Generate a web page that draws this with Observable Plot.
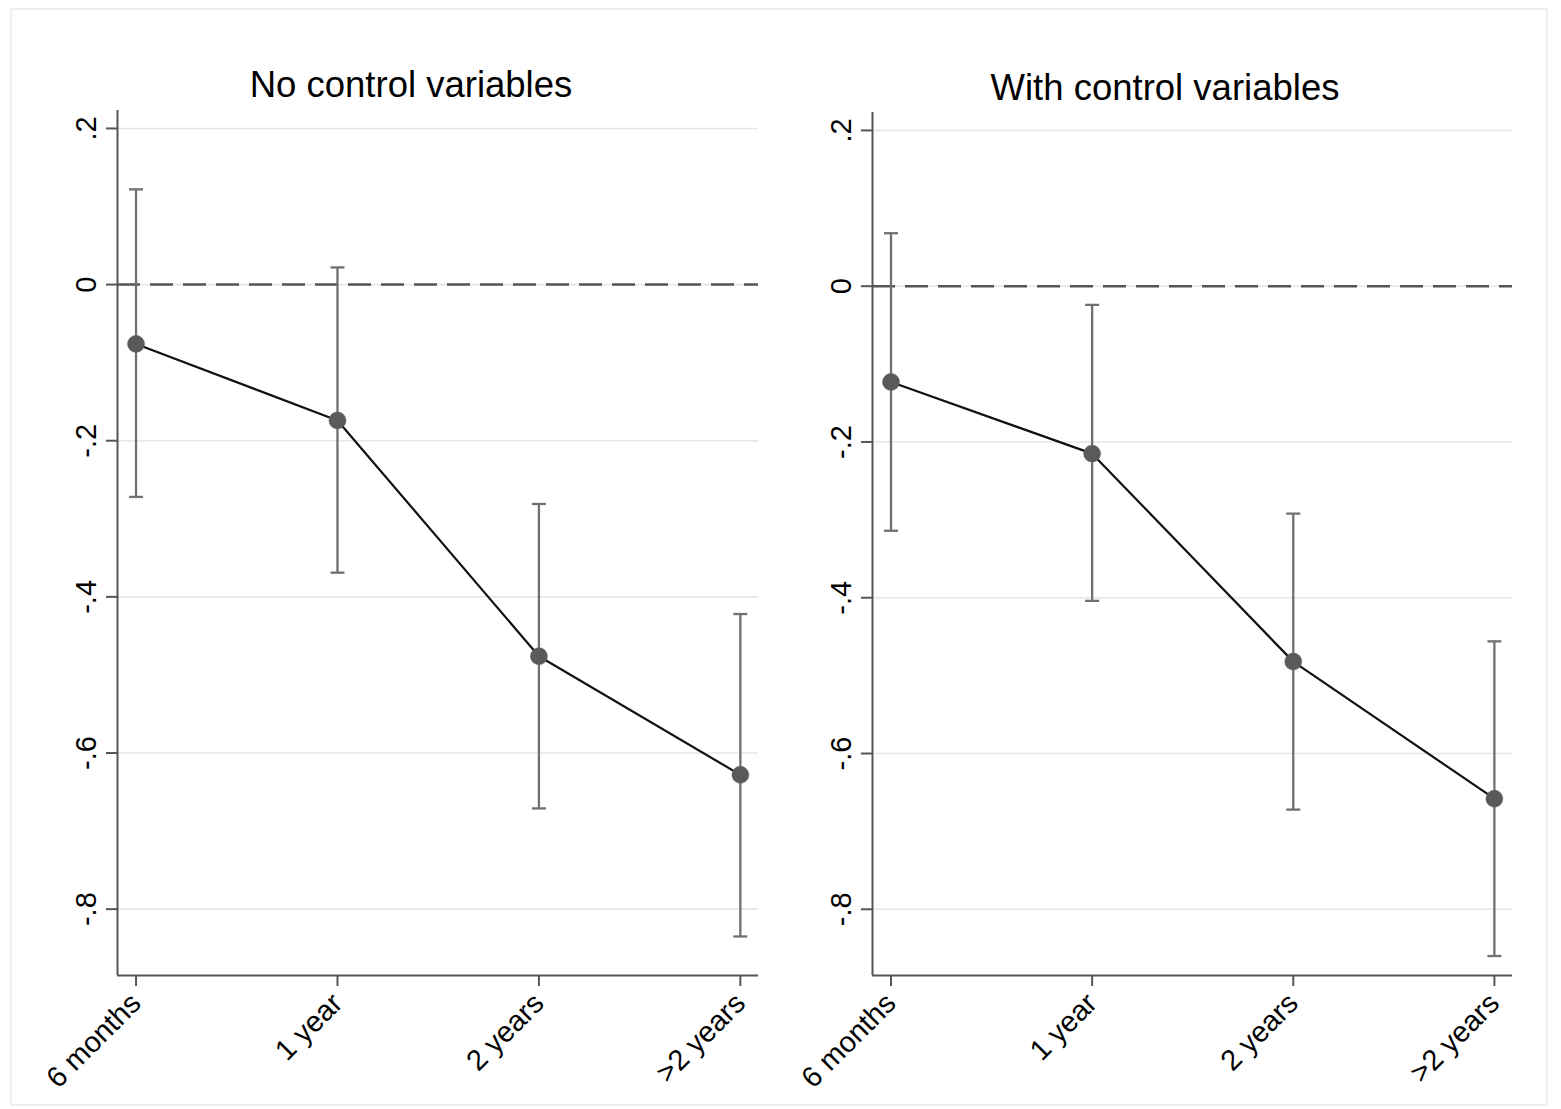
<!DOCTYPE html>
<html><head><meta charset="utf-8">
<script src="https://cdn.jsdelivr.net/npm/d3@7"></script>
<script src="https://cdn.jsdelivr.net/npm/@observablehq/plot@0.6"></script>
<style>
body{margin:0;background:#fff;font-family:"Liberation Sans",Arial,sans-serif;}
#frame{position:absolute;left:10px;top:8px;width:1538px;height:1098px;border:2px solid #efefef;box-sizing:border-box;}
.title{position:absolute;font-size:36.5px;line-height:1;text-align:center;color:#000;white-space:nowrap;}
</style></head><body>
<div id="frame"></div>
<script>
const categories = ["6 months", "1 year", "2 years", ">2 years"];
const panelTitles = ["No control variables", "With control variables"];
const estNoControls = [-0.076, -0.174, -0.476, -0.628];
const lowNoControls = [-0.272, -0.369, -0.671, -0.835];
const highNoControls = [0.122, 0.022, -0.281, -0.422];
const estControls = [-0.123, -0.215, -0.482, -0.658];
const lowControls = [-0.314, -0.404, -0.672, -0.860];
const highControls = [0.068, -0.024, -0.292, -0.456];
const yTicks = [0.2, 0, -0.2, -0.4, -0.6, -0.8];
const yTickLabels = [".2", "0", "-.2", "-.4", "-.6", "-.8"];

const xDomain = [-0.092, 3.09];
const yDomain = [-0.885, 0.223];
const capSymbol = {draw(ctx) { ctx.moveTo(-7, 0); ctx.lineTo(7, 0); }};

function panel(est, low, high, title, o) {
  const data = categories.map((c, i) => ({i, cat: c, est: est[i], low: low[i], high: high[i]}));
  const axisColor = "#555";
  const chart = Plot.plot({
    width: o.width, height: o.height,
    marginLeft: o.ml, marginRight: o.mr, marginTop: o.mt, marginBottom: o.mb,
    style: {fontFamily: "Liberation Sans, Arial, sans-serif", background: "transparent", color: "#000"},
    x: {domain: xDomain, axis: null},
    y: {domain: yDomain, axis: null},
    marks: [
      Plot.ruleY(yTicks, {stroke: "#e6e6e6", strokeWidth: 1.6}),
      Plot.ruleY([0], {stroke: "#555", strokeWidth: 2.5, strokeDasharray: "23,10"}),
      Plot.ruleX(data, {x: "i", y1: "low", y2: "high", stroke: "#707070", strokeWidth: 2.3}),
      Plot.dot(data, {x: "i", y: "low", symbol: capSymbol, stroke: "#707070", strokeWidth: 2.3}),
      Plot.dot(data, {x: "i", y: "high", symbol: capSymbol, stroke: "#707070", strokeWidth: 2.3}),
      Plot.line(data, {x: "i", y: "est", stroke: "#111", strokeWidth: 2.2}),
      Plot.dot(data, {x: "i", y: "est", r: 8.5, fill: "#5a5a5a", stroke: "#5a5a5a", strokeWidth: 0.5}),
      Plot.ruleX([xDomain[0]], {stroke: axisColor, strokeWidth: 2}),
      Plot.ruleY([yDomain[0]], {stroke: axisColor, strokeWidth: 2}),
      Plot.axisY({ticks: yTicks, tickFormat: (d) => yTickLabels[yTicks.indexOf(d)], label: null,
        tickSize: 11, tickPadding: 20, tickRotate: -90, textAnchor: "middle", lineAnchor: "middle",
        fontSize: 29, stroke: axisColor, strokeWidth: 2, fill: "#000"}),
      Plot.axisX({ticks: d3.range(categories.length), tickFormat: (d) => categories[d], label: null,
        tickSize: 11, tickPadding: 12, tickRotate: -45, textAnchor: "end", lineAnchor: "middle",
        fontSize: 29, stroke: axisColor, strokeWidth: 2, fill: "#000"})
    ]
  });
  chart.style.position = "absolute";
  chart.style.left = o.left + "px";
  chart.style.top = o.top + "px";
  chart.style.maxWidth = "none";
  chart.style.width = o.width + "px";
  chart.style.height = o.height + "px";
  chart.style.overflow = "visible";
  document.body.appendChild(chart);
  const t = document.createElement("div");
  t.className = "title";
  t.textContent = title;
  t.style.left = (o.titleCenter - 300) + "px";
  t.style.width = "600px";
  t.style.top = o.titleTop + "px";
  document.body.appendChild(t);
}

panel(estNoControls, lowNoControls, highNoControls, panelTitles[0],
  {left: 0, top: 100, width: 770, height: 1009, ml: 117, mr: 12, mt: 10, mb: 134, titleCenter: 411, titleTop: 67});
panel(estControls, lowControls, highControls, panelTitles[1],
  {left: 760, top: 101, width: 800, height: 1008, ml: 112, mr: 48, mt: 11, mb: 134, titleCenter: 1165, titleTop: 70});
</script>
</body></html>
